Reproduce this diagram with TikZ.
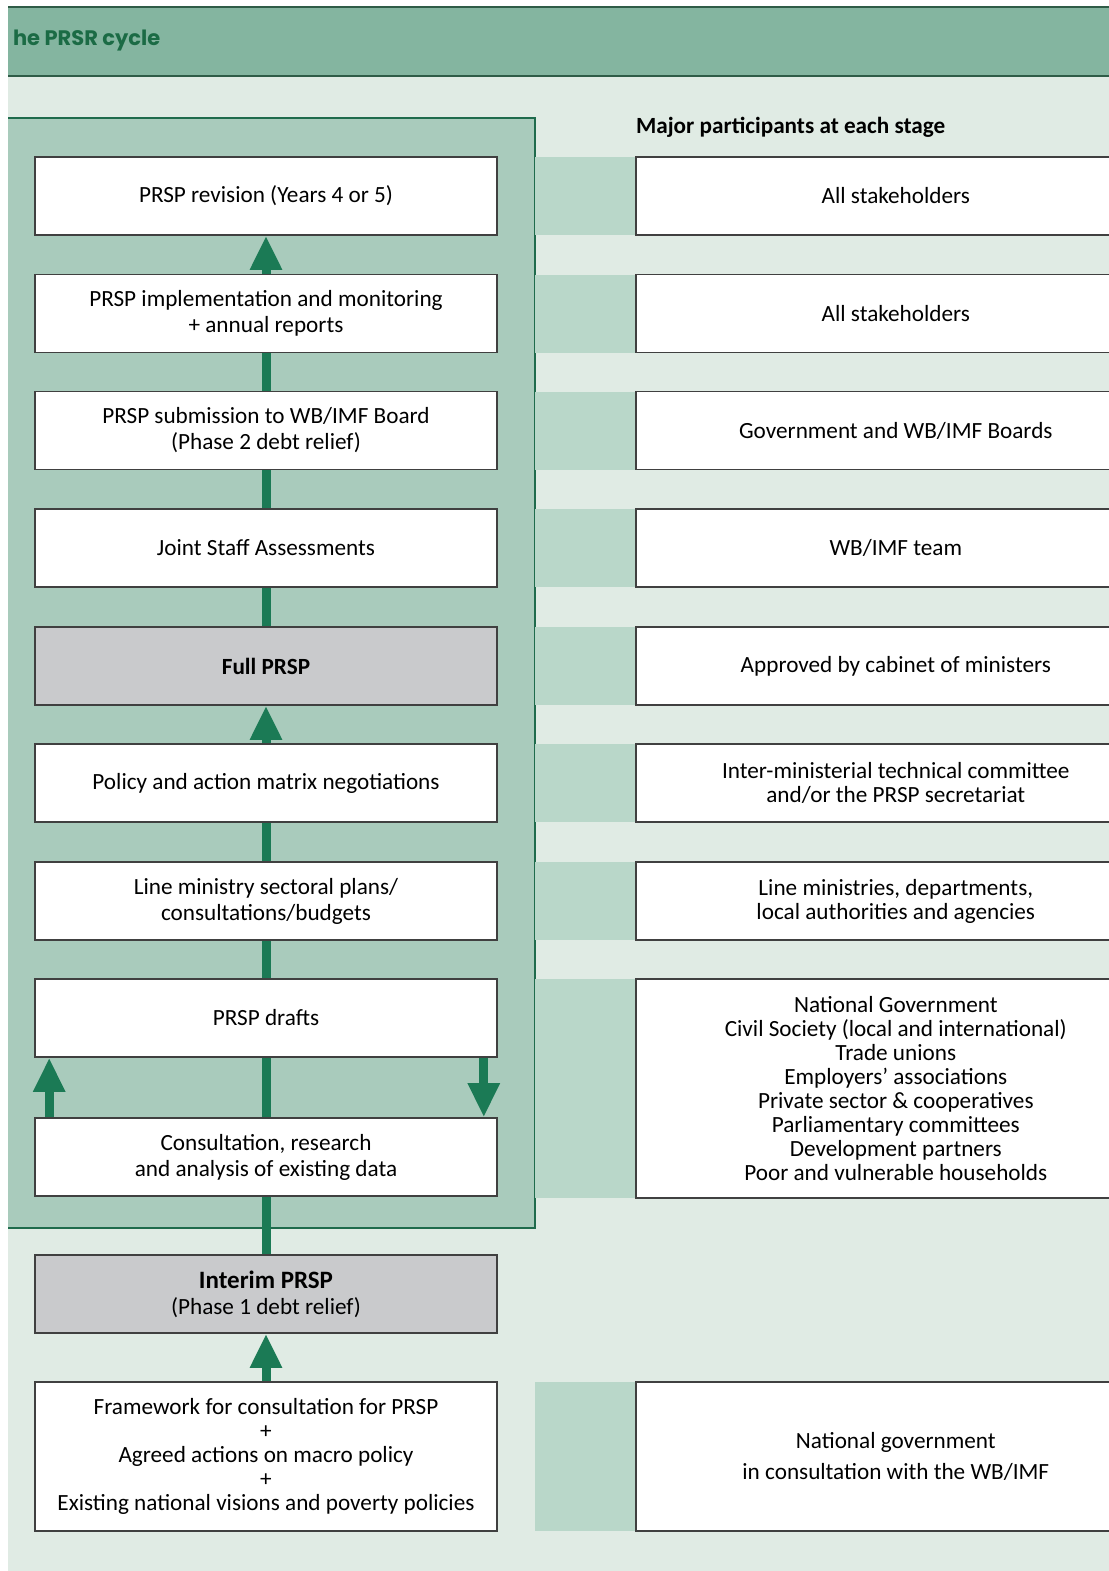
\documentclass[tikz,border=0pt]{standalone}
\usepackage{fontspec}
\setmainfont{Carlito}
\newfontfamily\headfont{Poppins}
\usepackage{xcolor}
\usetikzlibrary{arrows.meta}

\definecolor{bggreen}{HTML}{E0EBE4}
\definecolor{headgreen}{HTML}{84B5A0}
\definecolor{panelgreen}{HTML}{A9CBBC}
\definecolor{stripegreen}{HTML}{B9D7C9}
\definecolor{darkline}{HTML}{2F5C47}
\definecolor{panelline}{HTML}{1F6B4C}
\definecolor{arrowgreen}{HTML}{1B7A55}
\definecolor{stagegray}{HTML}{C9CACC}
\definecolor{titlegreen}{HTML}{1B6B45}

\begin{document}
\begin{tikzpicture}[x=0.5pt,y=-0.5pt,
	stagebox/.style={draw=black!75, line width=0.8pt, fill=white, minimum width=231pt, minimum height=39pt, inner sep=2pt, align=center, font=\fontsize{11.6}{13}\selectfont},
	keybox/.style={stagebox, fill=stagegray},
	whobox/.style={stagebox, anchor=west, minimum width=260pt, font=\fontsize{11.6}{12}\selectfont},
	flow/.style={arrowgreen, line width=4.5pt},
	flowup/.style={flow, -{Triangle[length=17pt,width=15pt]}}
]

	\useasboundingbox (0,0) rectangle (1109,1571);

	% background, header and panel
	\fill[bggreen] (8,76) rectangle (1109,1571);
	\fill[headgreen] (8,7) rectangle (1109,76);
	\draw[darkline, line width=1pt] (8,7) -- (1109,7);
	\draw[darkline, line width=1pt] (8,76) -- (1109,76);
	\node[anchor=west, text=titlegreen, font=\headfont\bfseries\fontsize{10.5}{12}\selectfont] (title) at (6,41) {he PRSR cycle};

	\fill[panelgreen] (8,118) rectangle (535,1228);
	\draw[panelline, line width=1.2pt] (8,118) -- (535,118) -- (535,1228) -- (8,1228);

	\foreach \top in {157,275,392,509,627,744,862}
		\fill[stripegreen] (535,\top) rectangle (635,\top+78);
	\fill[stripegreen] (535,979) rectangle (635,1198);
	\fill[stripegreen] (535,1382) rectangle (635,1531);

	\node[anchor=west, font=\bfseries\fontsize{11.6}{13}\selectfont] (major) at (629,127) {Major participants at each stage};

	% stages
	\node[stagebox] (rev) at (266,196) {PRSP revision (Years 4 or 5)};
	\node[stagebox] (impl) at (266,313.5) {PRSP implementation and monitoring\\+ annual reports};
	\node[stagebox] (subm) at (266,430.5) {PRSP submission to WB/IMF Board\\(Phase 2 debt relief)};
	\node[stagebox] (jsa) at (266,548) {Joint Staff Assessments};
	\node[keybox] (full) at (266,666) {\textbf{Full PRSP}};
	\node[stagebox] (pam) at (266,783) {Policy and action matrix negotiations};
	\node[stagebox] (lms) at (266,901) {Line ministry sectoral plans/\\consultations/budgets};
	\node[stagebox] (drafts) at (266,1018) {PRSP drafts};
	\node[stagebox] (cons) at (266,1157) {Consultation, research\\and analysis of existing data};
	\node[keybox] (iprsp) at (266,1294) {{\bfseries\fontsize{12.5}{13}\selectfont Interim PRSP}\\(Phase 1 debt relief)};
	\node[stagebox, minimum height=74.5pt, font=\fontsize{11.6}{12}\selectfont] (frame) at (266,1456.5) {Framework for consultation for PRSP\\+\\Agreed actions on macro policy\\+\\Existing national visions and poverty policies};

	% participants
	\node[whobox] (who1) at (635,196) {All stakeholders};
	\node[whobox] (who2) at (635,313.5) {All stakeholders};
	\node[whobox] (who3) at (635,430.5) {Government and WB/IMF Boards};
	\node[whobox] (who4) at (635,548) {WB/IMF team};
	\node[whobox] (who5) at (635,666) {Approved by cabinet of ministers};
	\node[whobox] (who6) at (635,783) {Inter-ministerial technical committee\\and/or the PRSP secretariat};
	\node[whobox] (who7) at (635,901) {Line ministries, departments,\\local authorities and agencies};
	\node[whobox, minimum height=109.5pt] (who8) at (635,1088.5) {National Government\\Civil Society (local and international)\\Trade unions\\Employers’ associations\\Private sector \& cooperatives\\Parliamentary committees\\Development partners\\Poor and vulnerable households};
	\node[whobox, minimum height=74.5pt] (who9) at (635,1456.5) {National government\\[3.5pt]in consultation with the WB/IMF};

	% flow
	\draw[flowup] (frame.north) -- (iprsp.south);
	\draw[flow] (iprsp.north) -- (cons.south);
	\draw[flow] (cons.north) -- (drafts.south);
	\draw[flow] (drafts.north) -- (lms.south);
	\draw[flow] (lms.north) -- (pam.south);
	\draw[flowup] (pam.north) -- (full.south);
	\draw[flow] (full.north) -- (jsa.south);
	\draw[flow] (jsa.north) -- (subm.south);
	\draw[flow] (subm.north) -- (impl.south);
	\draw[flowup] (impl.north) -- (rev.south);

	\draw[flowup] ([xshift=7.5pt]cons.north west) -- ([xshift=7.5pt]drafts.south west);
	\draw[flowup] ([xshift=-7pt]drafts.south east) -- ([xshift=-7pt]cons.north east);
\end{tikzpicture}
\end{document}
